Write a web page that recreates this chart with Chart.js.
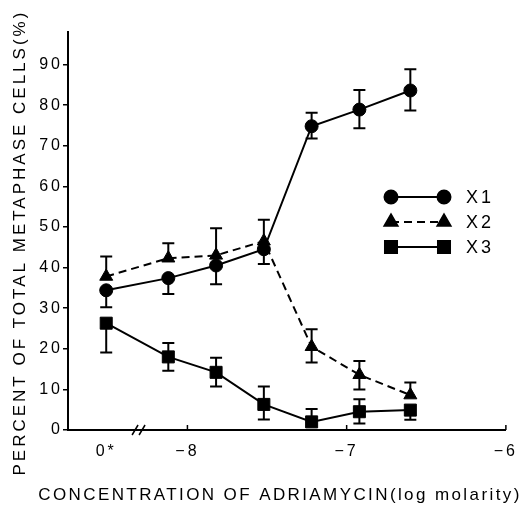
<!DOCTYPE html>
<html>
<head>
<meta charset="utf-8">
<script src="https://cdn.jsdelivr.net/npm/chart.js@4.4.1/dist/chart.umd.min.js"></script>
<style>
  html, body { margin: 0; padding: 0; background: #fff; }
  canvas { display: block; }
</style>
</head>
<body>
<canvas id="chart" width="527" height="513"></canvas>
<script>
// dose positions in log molarity; the control (0*) sits left of the axis break
const xPos = [-8.51, -8.12, -7.82, -7.52, -7.22, -6.92, -6.60];
const xTickValues = [-8.51, -8, -7, -6];
const xTickLabels = ['0*', '\u22128', '\u22127', '\u22126'];
const yTickValues = [0, 10, 20, 30, 40, 50, 60, 70, 80, 90];

// percent of metaphase cells, with the error bar lengths that are visible
const x1 = [34.4, 37.4, 40.5, 44.5, 74.8, 78.9, 83.6];
const x1Up = [0, 0, 0, 0, 3.3, 4.8, 5.2];
const x1Down = [4.2, 3.9, 4.6, 3.6, 3.0, 4.6, 4.9];

const x2 = [37.8, 42.3, 43.0, 46.5, 20.5, 13.6, 8.6];
const x2Up = [4.9, 3.7, 6.7, 5.3, 4.3, 3.4, 3.1];
const x2Down = [0, 0, 0, 0, 3.9, 3.6, 0];

const x3 = [26.3, 18.0, 14.2, 6.3, 2.0, 4.5, 4.9];
const x3Up = [0, 3.4, 3.6, 4.4, 3.2, 3.1, 0];
const x3Down = [7.2, 3.4, 3.5, 3.7, 0, 2.9, 2.4];

const xTitle = 'CONCENTRATION OF ADRIAMYCIN(log molarity)';
const FONT = 'Liberation Sans, Arial, Helvetica, sans-serif';

function points(vals) {
    return xPos.map((x, i) => ({ x: x, y: vals[i] }));
}

// vertical error bars with caps
const errorBars = {
    id: 'errorBars',
    afterDatasetsDraw(chart) {
        const ctx = chart.ctx;
        const yScale = chart.scales.y;
        ctx.save();
        ctx.strokeStyle = '#000';
        ctx.lineWidth = 2;
        chart.data.datasets.forEach((ds, i) => {
            const meta = chart.getDatasetMeta(i);
            meta.data.forEach((pt, j) => {
                const v = ds.data[j].y;
                [[ds.errUp[j], 1], [ds.errDown[j], -1]].forEach(([e, s]) => {
                    if (!e) return;
                    const yy = yScale.getPixelForValue(v + s * e);
                    ctx.beginPath();
                    ctx.moveTo(pt.x, pt.y);
                    ctx.lineTo(pt.x, yy);
                    ctx.moveTo(pt.x - 6, yy);
                    ctx.lineTo(pt.x + 6, yy);
                    ctx.stroke();
                });
            });
        });
        ctx.restore();
    }
};

// inward x ticks, the axis break, the legend box and the x title
const decorations = {
    id: 'decorations',
    beforeDraw(chart) {
        // the scanned figure uses widely spaced lettering
        chart.ctx.letterSpacing = '3px';
    },
    afterDraw(chart) {
        const ctx = chart.ctx;
        const xs = chart.scales.x;
        const base = chart.chartArea.bottom;
        ctx.save();
        ctx.strokeStyle = '#000';
        ctx.fillStyle = '#000';
        ctx.lineWidth = 1.5;
        [-8, -7, -6].forEach(v => {
            const px = xs.getPixelForValue(v);
            ctx.beginPath();
            ctx.moveTo(px, base);
            ctx.lineTo(px, base - 5);
            ctx.stroke();
        });

        // break mark
        const bx = xs.getPixelForValue(-8.31);
        [-3, 4].forEach(dx => {
            ctx.beginPath();
            ctx.moveTo(bx + dx - 3, base + 5);
            ctx.lineTo(bx + dx + 3, base - 5);
            ctx.stroke();
        });

        // legend
        const rows = [197, 222, 247];
        chart.data.datasets.forEach((ds, i) => {
            const y = rows[i];
            ctx.lineWidth = 2;
            ctx.setLineDash(ds.borderDash || []);
            ctx.beginPath();
            ctx.moveTo(391, y);
            ctx.lineTo(444, y);
            ctx.stroke();
            ctx.setLineDash([]);
            const opts = { pointStyle: ds.pointStyle, radius: ds.pointRadius, rotation: 0, borderWidth: 1 };
            Chart.helpers.drawPoint(ctx, opts, 391, y);
            Chart.helpers.drawPoint(ctx, opts, 444, y);
            ctx.font = '18px ' + FONT;
            ctx.textBaseline = 'middle';
            ctx.textAlign = 'left';
            ctx.fillText(ds.label, 466, y + 1);
        });

        // x title is wider than the axis, so the scale title would squeeze it
        ctx.letterSpacing = '2.4px';
        ctx.font = '17px ' + FONT;
        ctx.textAlign = 'center';
        ctx.textBaseline = 'middle';
        ctx.fillText(xTitle, 280, 495);
        ctx.restore();
    }
};

new Chart(document.getElementById('chart'), {
    type: 'line',
    data: {
        datasets: [
            {
                label: 'X1',
                data: points(x1),
                errUp: x1Up,
                errDown: x1Down,
                borderColor: '#000',
                backgroundColor: '#000',
                borderWidth: 2,
                pointStyle: 'circle',
                pointRadius: 6.5,
                pointBorderWidth: 1
            },
            {
                label: 'X2',
                data: points(x2),
                errUp: x2Up,
                errDown: x2Down,
                borderColor: '#000',
                backgroundColor: '#000',
                borderWidth: 2,
                borderDash: [8, 5],
                pointStyle: 'triangle',
                pointRadius: 7.5,
                pointBorderWidth: 1
            },
            {
                label: 'X3',
                data: points(x3),
                errUp: x3Up,
                errDown: x3Down,
                borderColor: '#000',
                backgroundColor: '#000',
                borderWidth: 2,
                pointStyle: 'rect',
                pointRadius: 8.5,
                pointBorderWidth: 1
            }
        ]
    },
    options: {
        responsive: false,
        animation: false,
        clip: false,
        layout: { padding: { top: 32, right: 13, bottom: 0, left: 0 } },
        elements: { line: { tension: 0 } },
        plugins: {
            legend: { display: false },
            tooltip: { enabled: false }
        },
        scales: {
            x: {
                type: 'linear',
                min: -8.75,
                max: -6,
                afterBuildTicks: s => { s.ticks = xTickValues.map(v => ({ value: v })); },
                afterFit: s => { s.height = 83; },
                grid: { display: false, drawTicks: false },
                border: { color: '#000', width: 2 },
                ticks: {
                    color: '#000',
                    font: { family: FONT, size: 16 },
                    padding: 12,
                    autoSkip: false,
                    maxRotation: 0,
                    callback: (v, i) => xTickLabels[i]
                }
            },
            y: {
                min: 0,
                max: 98,
                afterBuildTicks: s => { s.ticks = yTickValues.map(v => ({ value: v })); },
                afterFit: s => { s.width = 68; },
                grid: { drawOnChartArea: false, tickLength: 5, color: '#000', lineWidth: 1.5 },
                border: { color: '#000', width: 2 },
                ticks: {
                    color: '#000',
                    font: { family: FONT, size: 16 },
                    padding: 0
                },
                title: {
                    display: true,
                    // trailing spaces push the centred title down to where the scan has it
                    text: 'PERCENT OF TOTAL METAPHASE CELLS(%)   ',
                    color: '#000',
                    font: { family: FONT, size: 17 },
                    padding: { top: 10, bottom: 0 }
                }
            }
        }
    },
    plugins: [errorBars, decorations]
});
</script>
</body>
</html>
